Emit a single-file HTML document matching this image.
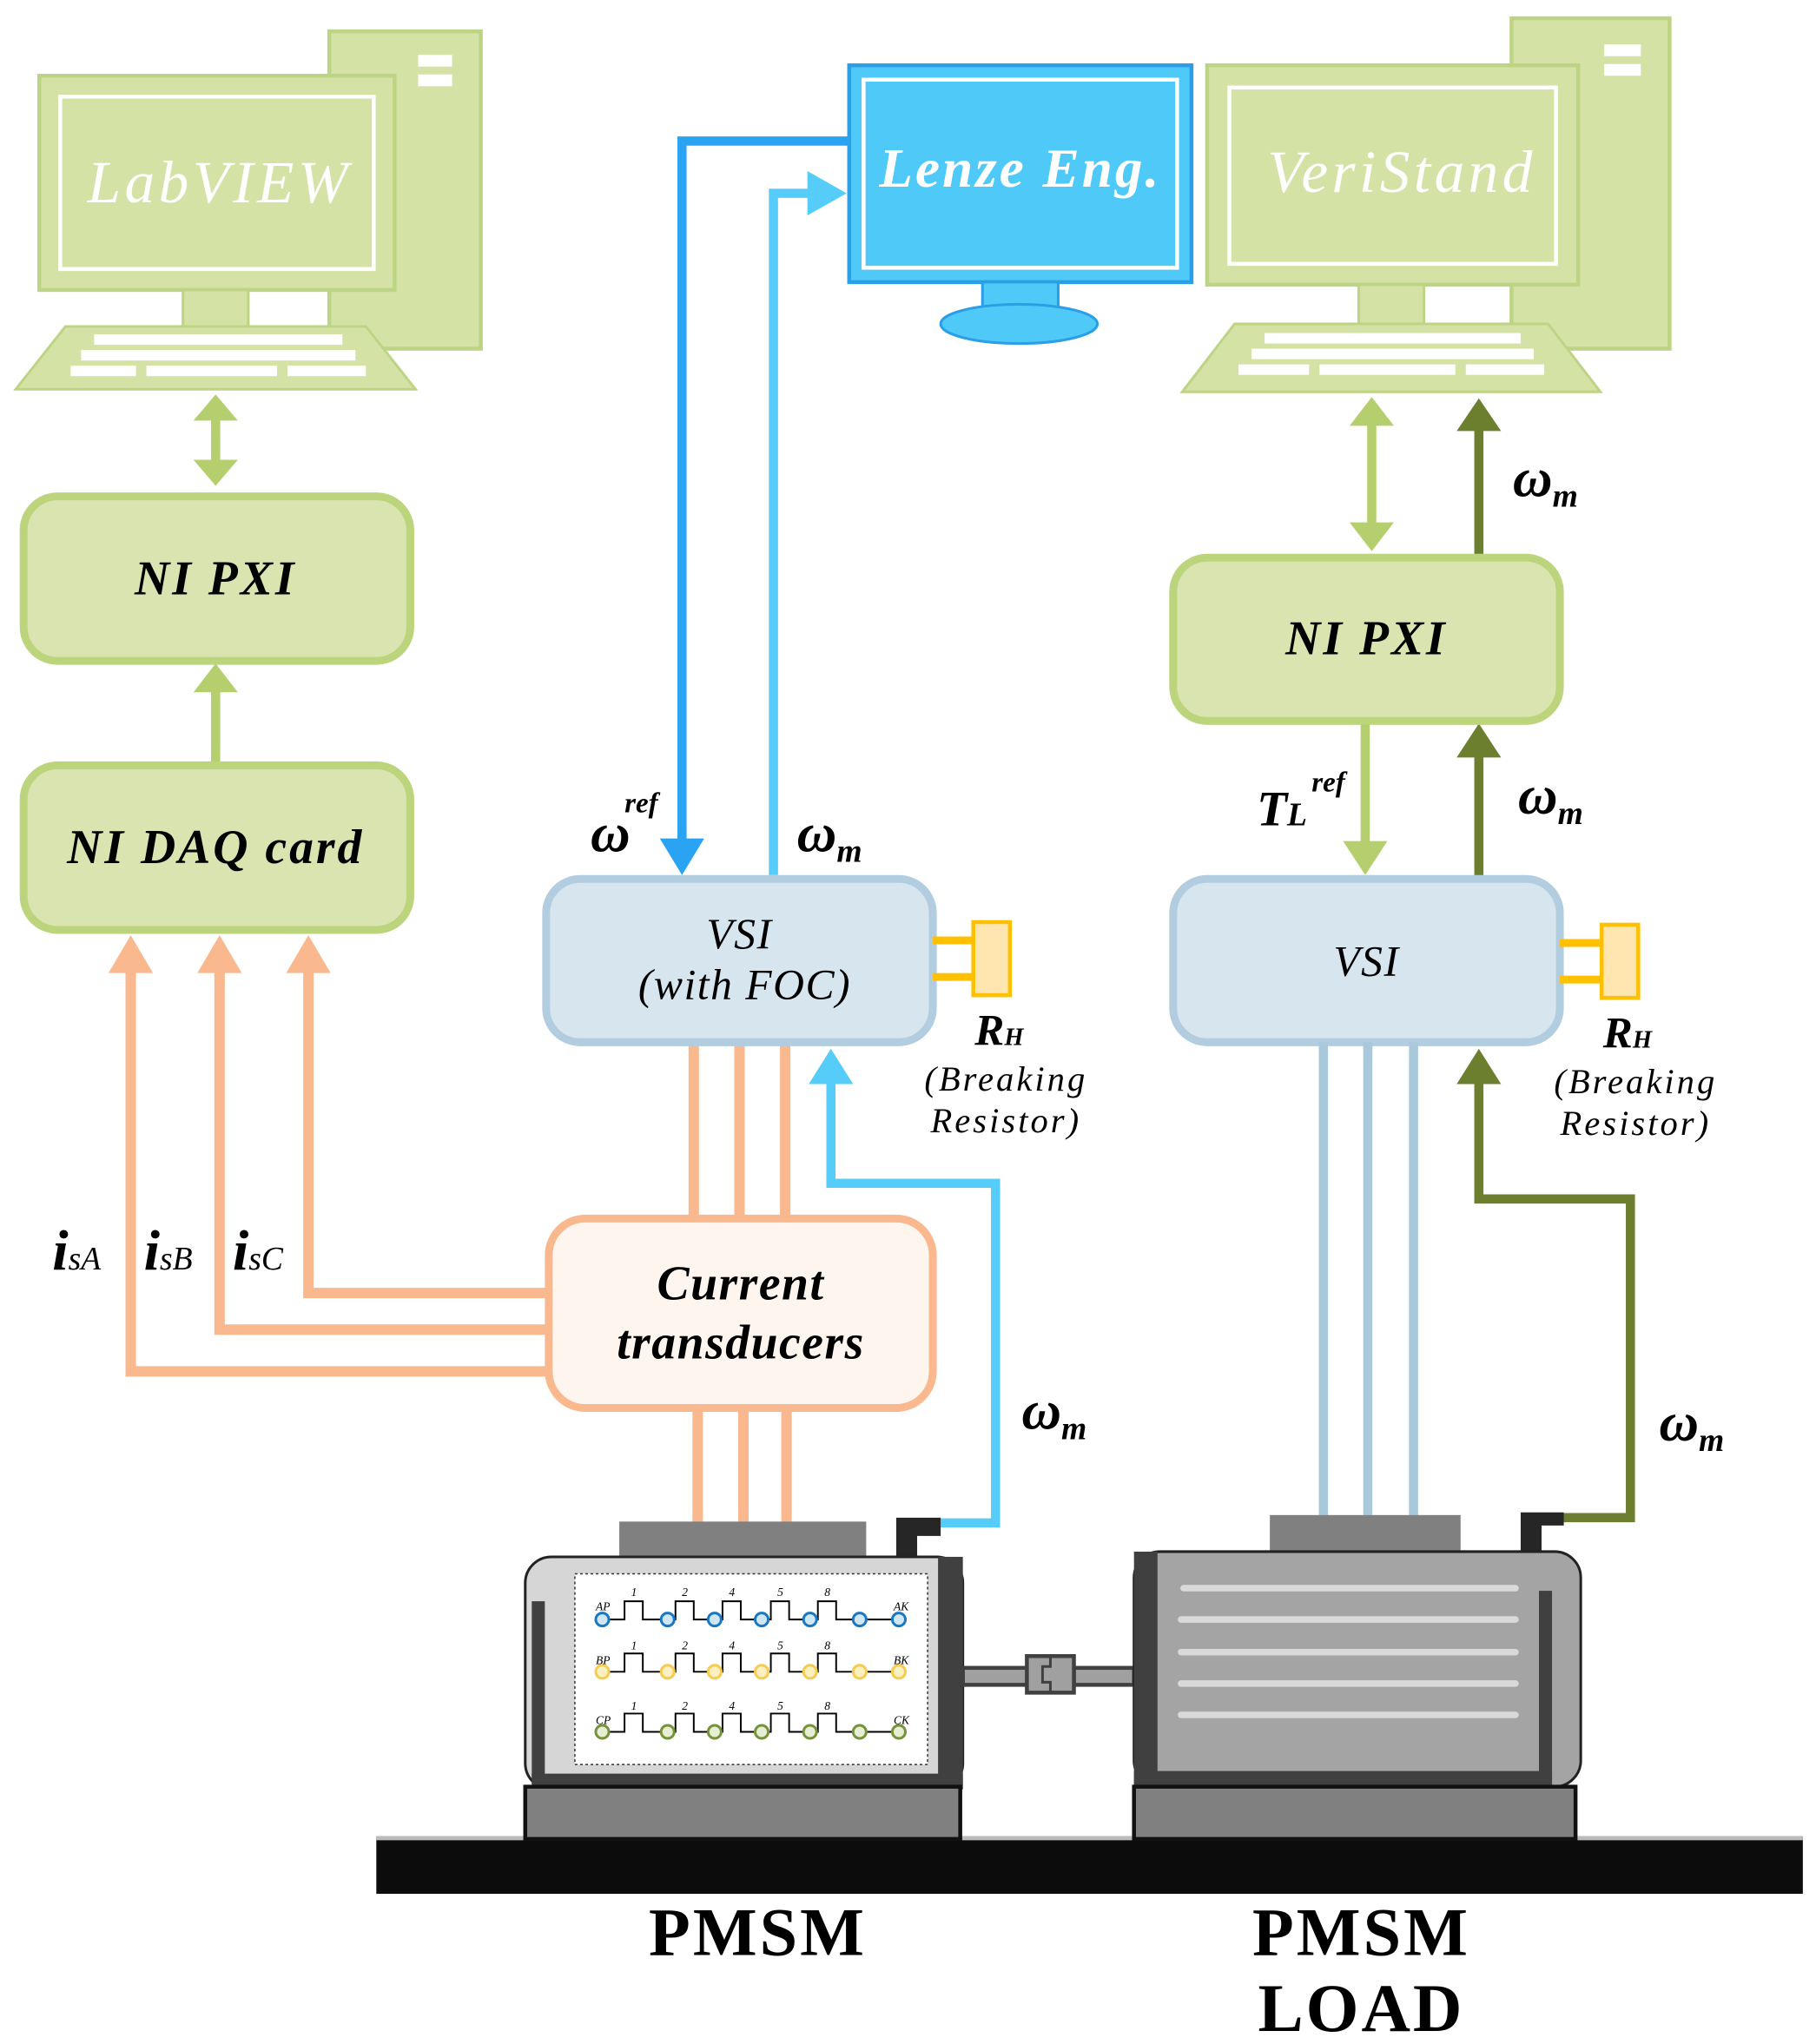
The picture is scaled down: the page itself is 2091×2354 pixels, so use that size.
<!DOCTYPE html>
<html><head><meta charset="utf-8"><style>
html,body{margin:0;padding:0;background:#fff}
svg{display:block}
text{font-family:"Liberation Serif",serif}
.lb{font-weight:bold;font-style:italic}
</style></head><body>
<svg width="2091" height="2354" viewBox="0 0 1390 1565" xmlns="http://www.w3.org/2000/svg">

<!-- LEFT COMPUTER -->
<rect x="252" y="24" width="116" height="243" fill="#d5e2a6" stroke="#bed485" stroke-width="3"/>
<rect x="320" y="42" width="26" height="9" fill="#fff"/>
<rect x="320" y="57" width="26" height="9" fill="#fff"/>
<rect x="30" y="58" width="272" height="164" fill="#d5e2a6" stroke="#bed485" stroke-width="3"/>
<rect x="46" y="74" width="240" height="132" fill="none" stroke="#fff" stroke-width="3"/>
<text x="168" y="155" font-size="46" font-style="italic" fill="#fff" text-anchor="middle" letter-spacing="3">LabVIEW</text>
<rect x="140" y="222" width="50" height="28" fill="#d5e2a6" stroke="#bed485" stroke-width="2"/>
<polygon points="50,250 280,250 318,298 12,298" fill="#d5e2a6" stroke="#bed485" stroke-width="2"/>
<g fill="#fff">
<rect x="72" y="256" width="190" height="8"/><rect x="62" y="268" width="210" height="8"/><rect x="54" y="280" width="50" height="8"/><rect x="112" y="280" width="100" height="8"/><rect x="220" y="280" width="60" height="8"/>
</g>

<!-- Left arrows -->
<g stroke="#b6cf6e" stroke-width="7" fill="#b6cf6e">
<line x1="165" y1="318" x2="165" y2="356"/>
<polygon points="148,322 165,302 182,322" stroke="none"/>
<polygon points="148,352 165,372 182,352" stroke="none"/>
<line x1="165" y1="585" x2="165" y2="528"/>
<polygon points="148,530 165,508 182,530" stroke="none"/>
</g>
<rect x="18" y="380" width="296" height="126" rx="26" fill="#d9e4b0" stroke="#bcd47c" stroke-width="6"/>
<text x="165" y="455" font-size="37" class="lb" text-anchor="middle" letter-spacing="2">NI PXI</text>
<rect x="18" y="586" width="296" height="126" rx="26" fill="#d9e4b0" stroke="#bcd47c" stroke-width="6"/>
<text x="165" y="661" font-size="37" class="lb" text-anchor="middle" letter-spacing="2">NI DAQ card</text>

<!-- Orange current lines -->
<g stroke="#f9b88e" stroke-width="8" fill="none">
<polyline points="420,1050 100,1050 100,738"/>
<polyline points="420,1018 168,1018 168,738"/>
<polyline points="420,990 236,990 236,738"/>
<line x1="531" y1="798" x2="531" y2="933"/><line x1="566" y1="798" x2="566" y2="933"/><line x1="601" y1="798" x2="601" y2="933"/>
<line x1="534" y1="1078" x2="534" y2="1166"/><line x1="569" y1="1078" x2="569" y2="1166"/><line x1="602" y1="1078" x2="602" y2="1166"/>
</g>
<g fill="#f9b88e">
<polygon points="83,745 100,716 117,745"/><polygon points="151,745 168,716 185,745"/><polygon points="219,745 236,716 253,745"/>
</g>
<text x="40" y="972" font-size="44" class="lb">i<tspan font-size="25" font-weight="normal">sA</tspan></text>
<text x="110" y="972" font-size="44" class="lb">i<tspan font-size="25" font-weight="normal">sB</tspan></text>
<text x="178" y="972" font-size="44" class="lb">i<tspan font-size="25" font-weight="normal">sC</tspan></text>

<!-- LENZE monitor -->
<rect x="650" y="50" width="262" height="166" fill="#4fcaf8" stroke="#2a9ee6" stroke-width="3"/>
<rect x="661" y="61" width="240" height="144" fill="none" stroke="#fff" stroke-width="3"/>
<text x="781" y="143" font-size="42" class="lb" fill="#fff" text-anchor="middle" letter-spacing="2">Lenze Eng.</text>
<rect x="752" y="216" width="58" height="22" fill="#4fcaf8" stroke="#2a9ee6" stroke-width="2"/>
<ellipse cx="780" cy="248" rx="60" ry="15" fill="#4fcaf8" stroke="#2a9ee6" stroke-width="2"/>

<g fill="none" stroke-width="7">
<polyline points="650,108 522,108 522,645" stroke="#2aa4f2"/>
<polyline points="592,670 592,148 622,148" stroke="#55cdf8"/>
<polyline points="720,1166 762,1166 762,906 636,906 636,828" stroke="#55cdf8"/>
</g>
<polygon points="505,642 522,670 539,642" fill="#2aa4f2"/>
<polygon points="618,131 648,148 618,165" fill="#55cdf8"/>
<polygon points="619,830 636,803 653,830" fill="#55cdf8"/>

<text x="452" y="652" font-size="42" class="lb">ω</text>
<text x="478" y="622" font-size="22" class="lb">ref</text>
<text x="610" y="652" font-size="42" class="lb">ω<tspan font-size="25" dy="8">m</tspan></text>
<text x="782" y="1094" font-size="42" class="lb">ω<tspan font-size="25" dy="8">m</tspan></text>

<!-- VSI left -->
<rect x="418" y="673" width="296" height="125" rx="26" fill="#d6e5ee" stroke="#b2cde0" stroke-width="6"/>
<text x="566" y="726" font-size="33" font-style="italic" text-anchor="middle" letter-spacing="1">VSI</text>
<text x="570" y="765" font-size="33" font-style="italic" text-anchor="middle" letter-spacing="1">(with FOC)</text>
<g stroke="#ffc000" stroke-width="6"><line x1="714" y1="720" x2="746" y2="720"/><line x1="714" y1="748" x2="746" y2="748"/></g>
<rect x="745" y="706" width="28" height="56" fill="#ffe6b0" stroke="#ffc000" stroke-width="3"/>
<text x="746" y="800" font-size="34" class="lb">R<tspan font-size="19">H</tspan></text>
<text x="770" y="835" font-size="27" font-style="italic" text-anchor="middle" letter-spacing="2">(Breaking</text>
<text x="770" y="867" font-size="27" font-style="italic" text-anchor="middle" letter-spacing="2">Resistor)</text>

<!-- Current transducers -->
<rect x="420" y="933" width="294" height="145" rx="28" fill="#fff5ef" stroke="#f9b88e" stroke-width="6"/>
<text x="567" y="995" font-size="37" class="lb" text-anchor="middle" letter-spacing="1">Current</text>
<text x="567" y="1040" font-size="37" class="lb" text-anchor="middle" letter-spacing="1">transducers</text>

<!-- RIGHT COMPUTER -->
<rect x="1157" y="14" width="121" height="253" fill="#d5e2a6" stroke="#bed485" stroke-width="3"/>
<rect x="1228" y="34" width="28" height="9" fill="#fff"/>
<rect x="1228" y="49" width="28" height="9" fill="#fff"/>
<rect x="924" y="50" width="284" height="168" fill="#d5e2a6" stroke="#bed485" stroke-width="3"/>
<rect x="941" y="67" width="250" height="135" fill="none" stroke="#fff" stroke-width="3"/>
<text x="1073" y="147" font-size="46" font-style="italic" fill="#fff" text-anchor="middle" letter-spacing="3">VeriStand</text>
<rect x="1040" y="218" width="50" height="30" fill="#d5e2a6" stroke="#bed485" stroke-width="2"/>
<polygon points="945,248 1185,248 1225,300 905,300" fill="#d5e2a6" stroke="#bed485" stroke-width="2"/>
<g fill="#fff">
<rect x="968" y="255" width="196" height="8"/><rect x="958" y="267" width="216" height="8"/><rect x="948" y="279" width="54" height="8"/><rect x="1010" y="279" width="104" height="8"/><rect x="1122" y="279" width="60" height="8"/>
</g>

<g stroke-width="7">
<line x1="1050" y1="322" x2="1050" y2="405" stroke="#b6cf6e"/>
<line x1="1132" y1="425" x2="1132" y2="328" stroke="#6b7f2e"/>
<line x1="1045" y1="552" x2="1045" y2="648" stroke="#b6cf6e"/>
<line x1="1132" y1="672" x2="1132" y2="578" stroke="#6b7f2e"/>
</g>
<polygon points="1033,326 1050,304 1067,326" fill="#b6cf6e"/>
<polygon points="1033,400 1050,422 1067,400" fill="#b6cf6e"/>
<polygon points="1115,330 1132,305 1149,330" fill="#6b7f2e"/>
<polygon points="1028,644 1045,670 1062,644" fill="#b6cf6e"/>
<polygon points="1115,580 1132,554 1149,580" fill="#6b7f2e"/>
<text x="1158" y="380" font-size="42" class="lb">ω<tspan font-size="25" dy="8">m</tspan></text>
<text x="1162" y="623" font-size="42" class="lb">ω<tspan font-size="25" dy="8">m</tspan></text>
<text x="962" y="632" font-size="38" class="lb">T<tspan font-size="25">L</tspan></text>
<text x="1004" y="606" font-size="22" class="lb">ref</text>

<rect x="898" y="427" width="296" height="125" rx="26" fill="#d9e4b0" stroke="#bcd47c" stroke-width="6"/>
<text x="1046" y="501" font-size="37" class="lb" text-anchor="middle" letter-spacing="2">NI PXI</text>

<rect x="898" y="673" width="296" height="125" rx="26" fill="#d6e5ee" stroke="#b2cde0" stroke-width="6"/>
<text x="1046" y="747" font-size="33" font-style="italic" text-anchor="middle" letter-spacing="1">VSI</text>
<g stroke="#ffc000" stroke-width="6"><line x1="1194" y1="722" x2="1227" y2="722"/><line x1="1194" y1="750" x2="1227" y2="750"/></g>
<rect x="1226" y="708" width="28" height="56" fill="#ffe6b0" stroke="#ffc000" stroke-width="3"/>
<text x="1227" y="802" font-size="34" class="lb">R<tspan font-size="19">H</tspan></text>
<text x="1252" y="837" font-size="27" font-style="italic" text-anchor="middle" letter-spacing="2">(Breaking</text>
<text x="1252" y="869" font-size="27" font-style="italic" text-anchor="middle" letter-spacing="2">Resistor)</text>

<g stroke="#a8c9dc" stroke-width="7">
<line x1="1013" y1="798" x2="1013" y2="1160"/><line x1="1047" y1="798" x2="1047" y2="1160"/><line x1="1082" y1="798" x2="1082" y2="1160"/>
</g>
<polyline points="1195,1162 1248,1162 1248,918 1132,918 1132,828" fill="none" stroke="#6b7f2e" stroke-width="7"/>
<polygon points="1115,830 1132,803 1149,830" fill="#6b7f2e"/>
<text x="1270" y="1103" font-size="42" class="lb">ω<tspan font-size="25" dy="8">m</tspan></text>

<!-- GROUND -->
<rect x="288" y="1406" width="1092" height="44" fill="#0c0c0c"/>
<rect x="288" y="1406" width="1092" height="3" fill="#bbb"/>

<!-- LEFT MOTOR -->
<rect x="474" y="1165" width="189" height="30" fill="#808080"/>
<path d="M686,1192 V1162 H720 V1176 H702 V1192 z" fill="#262626"/>
<rect x="402" y="1192" width="335" height="178" rx="20" fill="#d6d6d6" stroke="#222" stroke-width="2"/>
<rect x="407" y="1226" width="10" height="140" fill="#404040"/>
<rect x="718" y="1192" width="19" height="178" fill="#404040"/>
<rect x="407" y="1358" width="330" height="12" fill="#404040"/>
<rect x="440" y="1205" width="270" height="146" fill="#fff" stroke="#333" stroke-width="1" stroke-dasharray="2,2"/>
<g fill="none" stroke="#000" stroke-width="1.3">
<path d="M461,1240 H478 V1226 H492 V1240 H511 M511,1240 H517 V1226 H531 V1240 H547 M547,1240 H553 V1226 H567 V1240 H583 M583,1240 H590 V1226 H604 V1240 H620 M620,1240 H626 V1226 H640 V1240 H658 M658,1240 H688"/>
<path d="M461,1280 H478 V1266 H492 V1280 H511 M511,1280 H517 V1266 H531 V1280 H547 M547,1280 H553 V1266 H567 V1280 H583 M583,1280 H590 V1266 H604 V1280 H620 M620,1280 H626 V1266 H640 V1280 H658 M658,1280 H688"/>
<path d="M461,1326 H478 V1312 H492 V1326 H511 M511,1326 H517 V1312 H531 V1326 H547 M547,1326 H553 V1312 H567 V1326 H583 M583,1326 H590 V1312 H604 V1326 H620 M620,1326 H626 V1312 H640 V1326 H658 M658,1326 H688"/>
</g>
<g stroke-width="2">
<g fill="#cfe6f5" stroke="#1a78c2"><circle cx="461" cy="1240" r="5"/><circle cx="511" cy="1240" r="5"/><circle cx="547" cy="1240" r="5"/><circle cx="583" cy="1240" r="5"/><circle cx="620" cy="1240" r="5"/><circle cx="658" cy="1240" r="5"/><circle cx="688" cy="1240" r="5"/></g>
<g fill="#fdf0c0" stroke="#f6cc50"><circle cx="461" cy="1280" r="5"/><circle cx="511" cy="1280" r="5"/><circle cx="547" cy="1280" r="5"/><circle cx="583" cy="1280" r="5"/><circle cx="620" cy="1280" r="5"/><circle cx="658" cy="1280" r="5"/><circle cx="688" cy="1280" r="5"/></g>
<g fill="#e6eed4" stroke="#77923c"><circle cx="461" cy="1326" r="5"/><circle cx="511" cy="1326" r="5"/><circle cx="547" cy="1326" r="5"/><circle cx="583" cy="1326" r="5"/><circle cx="620" cy="1326" r="5"/><circle cx="658" cy="1326" r="5"/><circle cx="688" cy="1326" r="5"/></g>
</g>
<g font-size="9" font-style="italic" font-family="Liberation Sans">
<text x="456" y="1233">AP</text><text x="684" y="1233">AK</text><text x="456" y="1274">BP</text><text x="684" y="1274">BK</text><text x="456" y="1320">CP</text><text x="684" y="1320">CK</text>
<text x="483" y="1222">1</text><text x="522" y="1222">2</text><text x="558" y="1222">4</text><text x="595" y="1222">5</text><text x="631" y="1222">8</text>
<text x="483" y="1263">1</text><text x="522" y="1263">2</text><text x="558" y="1263">4</text><text x="595" y="1263">5</text><text x="631" y="1263">8</text>
<text x="483" y="1309">1</text><text x="522" y="1309">2</text><text x="558" y="1309">4</text><text x="595" y="1309">5</text><text x="631" y="1309">8</text>
</g>
<rect x="402" y="1368" width="333" height="40" fill="#808080" stroke="#111" stroke-width="3"/>

<!-- shaft -->
<rect x="737" y="1277" width="50" height="13" fill="#a0a0a0" stroke="#404040" stroke-width="3"/>
<rect x="822" y="1277" width="46" height="13" fill="#a0a0a0" stroke="#404040" stroke-width="3"/>
<rect x="786" y="1268" width="36" height="28" fill="#a0a0a0" stroke="#404040" stroke-width="3"/>
<path d="M804,1268 V1276 H798 V1288 H804 V1296" fill="none" stroke="#404040" stroke-width="2"/>

<!-- RIGHT MOTOR -->
<rect x="972" y="1160" width="146" height="30" fill="#808080"/>
<path d="M1164,1190 V1158 H1197 V1168 H1180 V1190 z" fill="#262626"/>
<rect x="868" y="1188" width="342" height="180" rx="20" fill="#a4a4a4" stroke="#222" stroke-width="2"/>
<rect x="868" y="1188" width="18" height="180" fill="#404040"/>
<rect x="1178" y="1218" width="10" height="145" fill="#404040"/>
<rect x="868" y="1356" width="320" height="12" fill="#404040"/>
<g stroke="#d9d9d9" stroke-width="5" stroke-linecap="round">
<line x1="906" y1="1216" x2="1160" y2="1216"/><line x1="904" y1="1240" x2="1160" y2="1240"/><line x1="904" y1="1265" x2="1160" y2="1265"/><line x1="904" y1="1289" x2="1160" y2="1289"/><line x1="904" y1="1313" x2="1160" y2="1313"/>
</g>
<rect x="868" y="1368" width="338" height="40" fill="#808080" stroke="#111" stroke-width="3"/>

<text x="580" y="1497" font-size="52" font-weight="bold" text-anchor="middle" letter-spacing="2">PMSM</text>
<text x="1042" y="1497" font-size="52" font-weight="bold" text-anchor="middle" letter-spacing="2">PMSM</text>
<text x="1042" y="1555" font-size="52" font-weight="bold" text-anchor="middle" letter-spacing="2">LOAD</text>
</svg>
</body></html>
